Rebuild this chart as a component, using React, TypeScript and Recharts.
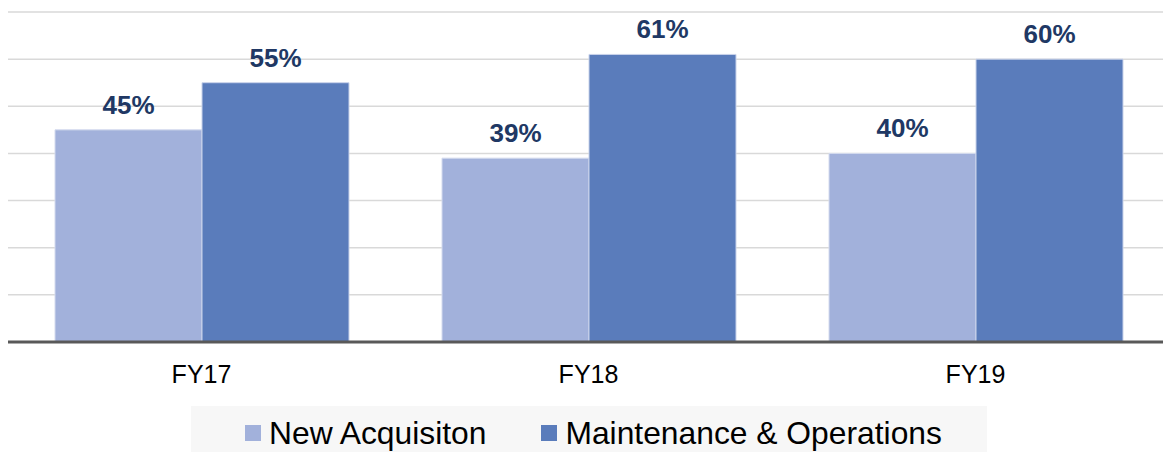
import React from "react";
import { BarChart, Bar, XAxis, YAxis, CartesianGrid, Legend, LabelList } from "recharts";

const categories = ["FY17", "FY18", "FY19"];
const newAcquisition = [45, 39, 40];
const maintenanceOps = [55, 61, 60];
const yTicks = [0, 10, 20, 30, 40, 50, 60, 70];

const seriesNames = ["New Acquisiton", "Maintenance & Operations"];
const seriesColors = ["#A2B1DB", "#5A7CBB"];

const data = categories.map((c, i) => ({
  name: c,
  a: newAcquisition[i],
  b: maintenanceOps[i],
}));

const FONT = "'Liberation Sans', Arial, sans-serif";

const LegendContent = () => {
  return (
    <div style={{ height: 46, position: "relative" }}>
      <div
        style={{
          position: "absolute",
          left: 183,
          top: 0,
          width: 796,
          height: 46,
          background: "#F7F7F7",
          boxSizing: "border-box",
          paddingLeft: 54,
          paddingTop: 9,
          display: "flex",
          flexDirection: "row",
          alignItems: "flex-start",
          fontFamily: FONT,
          fontSize: 31.8,
          lineHeight: "36px",
          color: "#000",
        }}
      >
        {seriesNames.map((name, i) => (
          <div
            key={i}
            style={{
              display: "flex",
              alignItems: "center",
              marginRight: i === 0 ? 55 : 0,
              height: 36,
            }}
          >
            <span
              style={{
                display: "inline-block",
                width: 16,
                height: 16,
                background: seriesColors[i],
                marginRight: 8,
              }}
            />
            <span style={{ whiteSpace: "nowrap" }}>{name}</span>
          </div>
        ))}
      </div>
    </div>
  );
};

export default function App() {
  return (
    <div
      style={{
        position: "fixed",
        left: 0,
        top: 0,
        width: 1163,
        height: 452,
        overflow: "hidden",
        background: "#fff",
      }}
    >
      <BarChart
        width={1171}
        height={452}
        data={data}
        margin={{ top: 12, right: 2, bottom: 0, left: 8 }}
        barCategoryGap={47}
        barGap={0}
      >
        <CartesianGrid horizontal={true} vertical={false} stroke="#D9D9D9" strokeWidth={1.5} />
        <YAxis hide domain={[0, 70]} ticks={yTicks} type="number" />
        <XAxis
          dataKey="name"
          height={64}
          tickLine={false}
          tickMargin={17}
          axisLine={{ stroke: "#595959", strokeWidth: 3 }}
          tick={{ fontFamily: FONT, fontSize: 25, fill: "#000" }}
          interval={0}
        />
        <Legend verticalAlign="bottom" height={46} content={<LegendContent />} />
        <Bar
          dataKey="a"
          name={seriesNames[0]}
          fill={seriesColors[0]}
          stroke="#D4DBEE"
          strokeWidth={1}
          isAnimationActive={false}
        >
          <LabelList
            dataKey="a"
            position="top"
            offset={16}
            formatter={(v: any) => `${v}%`}
            style={{ fontFamily: FONT, fontSize: 26, fontWeight: 700, fill: "#203864" }}
          />
        </Bar>
        <Bar
          dataKey="b"
          name={seriesNames[1]}
          fill={seriesColors[1]}
          stroke="#C9D3EA"
          strokeWidth={1}
          isAnimationActive={false}
        >
          <LabelList
            dataKey="b"
            position="top"
            offset={16}
            formatter={(v: any) => `${v}%`}
            style={{ fontFamily: FONT, fontSize: 26, fontWeight: 700, fill: "#203864" }}
          />
        </Bar>
      </BarChart>
    </div>
  );
}
